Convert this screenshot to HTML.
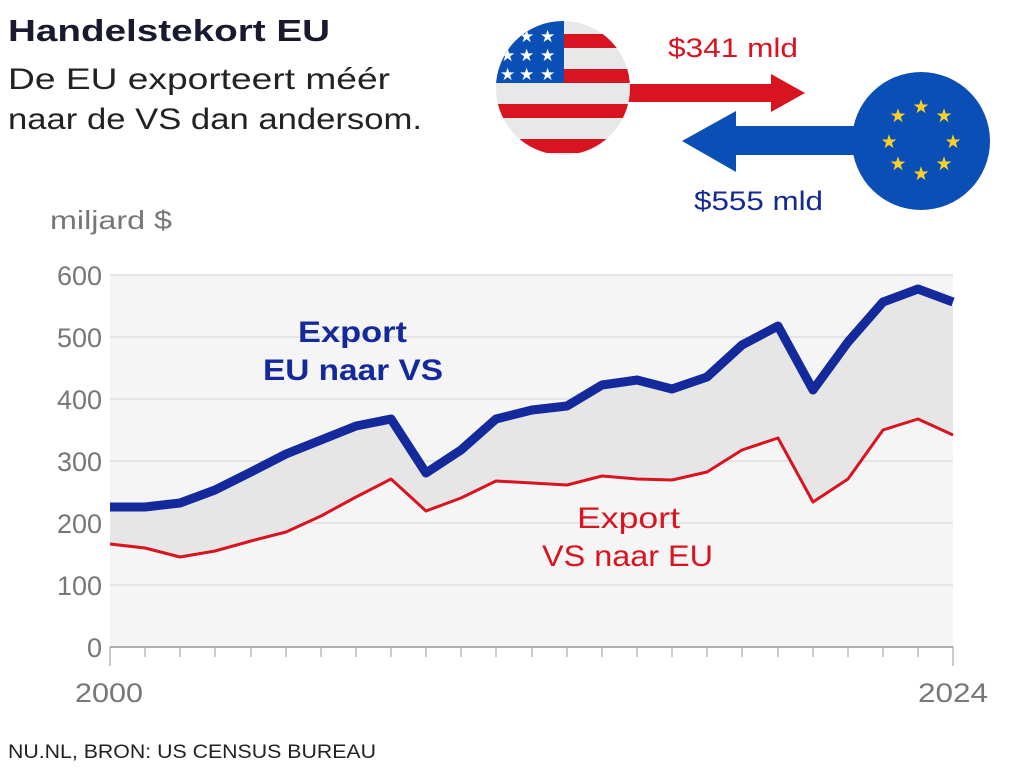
<!DOCTYPE html>
<html><head><meta charset="utf-8"><style>
body{margin:0;background:#fff;}
svg{display:block;font-family:"Liberation Sans","DejaVu Sans",sans-serif;}
</style></head><body>
<svg width="1024" height="768" viewBox="0 0 1024 768">
<defs><clipPath id="us"><circle cx="563" cy="88" r="67"/></clipPath></defs>
<text x="8" y="41" font-size="31" font-weight="bold" fill="#1a1a2e" textLength="322" lengthAdjust="spacingAndGlyphs">Handelstekort EU</text>
<text x="8" y="89" font-size="30" fill="#222" textLength="382" lengthAdjust="spacingAndGlyphs">De EU exporteert méér</text>
<text x="8" y="129" font-size="30" fill="#222" textLength="414" lengthAdjust="spacingAndGlyphs">naar de VS dan andersom.</text>
<!-- arrows -->
<rect x="620" y="84" width="153" height="18" fill="#d7141f"/>
<polygon points="771,74 805,93 771,112" fill="#d7141f"/>
<rect x="733" y="126" width="130" height="29" fill="#0a4fb5"/>
<polygon points="736,111 682,141 736,172" fill="#0a4fb5"/>
<g clip-path="url(#us)">
<rect x="490" y="15" width="150" height="150" fill="#e8e8e8"/>
<rect x="490" y="34" width="150" height="14" fill="#d7141f"/>
<rect x="490" y="69" width="150" height="14" fill="#d7141f"/>
<rect x="490" y="104" width="150" height="14" fill="#d7141f"/>
<rect x="490" y="139" width="150" height="14" fill="#d7141f"/>
<rect x="490" y="15" width="74" height="68" fill="#0a4fb5"/>
<g fill="#fff" font-size="17">
<text x="519" y="42">★</text><text x="540" y="42">★</text>
<text x="500" y="61">★</text><text x="519" y="61">★</text><text x="540" y="61">★</text>
<text x="500" y="80">★</text><text x="519" y="80">★</text><text x="540" y="80">★</text>
</g></g>
<circle cx="921" cy="141" r="69" fill="#0a4fb5"/>
<g fill="#f8d02a" font-size="19" text-anchor="middle">
<text x="921" y="113">★</text><text x="944" y="122">★</text><text x="953" y="148">★</text><text x="944" y="170">★</text>
<text x="921" y="180">★</text><text x="898" y="170">★</text><text x="889" y="148">★</text><text x="898" y="122">★</text>
</g>
<text x="668" y="57" font-size="27" fill="#d7141f" textLength="130" lengthAdjust="spacingAndGlyphs">$341 mld</text>
<text x="694" y="210" font-size="27" fill="#142a8c" textLength="129" lengthAdjust="spacingAndGlyphs">$555 mld</text>
<!-- chart -->
<text x="50" y="229" font-size="26" fill="#777" textLength="122" lengthAdjust="spacingAndGlyphs">miljard $</text>
<rect x="110" y="275" width="843" height="372" fill="#f5f5f5"/>
<g stroke="#d4d4d4" stroke-width="1">
<line x1="110" y1="275" x2="953" y2="275"/><line x1="110" y1="337" x2="953" y2="337"/>
<line x1="110" y1="399" x2="953" y2="399"/><line x1="110" y1="461" x2="953" y2="461"/>
<line x1="110" y1="523" x2="953" y2="523"/><line x1="110" y1="585" x2="953" y2="585"/>
</g>
<g font-size="27" fill="#777" text-anchor="end">
<text x="102" y="285">600</text><text x="102" y="347">500</text><text x="102" y="409">400</text>
<text x="102" y="471">300</text><text x="102" y="533">200</text><text x="102" y="595">100</text><text x="102" y="657">0</text>
</g>
<polygon fill="#e6e6e6" points="110,507 145,507 180,503 215,490 251,472 286,454 321,440 356,426 391,419 426,473 461,450 496,419 532,410 567,406 602,385 637,380 672,389 707,377 742,345 778,326 813,390 848,342 883,302 918,289 953,302 953,435 918,419 883,430 848,479 813,502 778,438 742,450 707,472 672,480 637,479 602,476 567,485 532,483 496,481 461,498 426,511 391,479 356,497 321,516 286,532 251,541 215,551 180,557 145,548 110,544"/>
<line x1="110" y1="647" x2="953" y2="647" stroke="#999" stroke-width="1.5"/>
<g stroke="#999" stroke-width="1">
<line x1="110" y1="647" x2="110" y2="666"/><line x1="145" y1="647" x2="145" y2="657"/><line x1="180" y1="647" x2="180" y2="657"/><line x1="215" y1="647" x2="215" y2="657"/><line x1="251" y1="647" x2="251" y2="657"/><line x1="286" y1="647" x2="286" y2="657"/><line x1="321" y1="647" x2="321" y2="657"/><line x1="356" y1="647" x2="356" y2="657"/><line x1="391" y1="647" x2="391" y2="657"/><line x1="426" y1="647" x2="426" y2="657"/><line x1="461" y1="647" x2="461" y2="657"/><line x1="496" y1="647" x2="496" y2="657"/><line x1="532" y1="647" x2="532" y2="657"/><line x1="567" y1="647" x2="567" y2="657"/><line x1="602" y1="647" x2="602" y2="657"/><line x1="637" y1="647" x2="637" y2="657"/><line x1="672" y1="647" x2="672" y2="657"/><line x1="707" y1="647" x2="707" y2="657"/><line x1="742" y1="647" x2="742" y2="657"/><line x1="778" y1="647" x2="778" y2="657"/><line x1="813" y1="647" x2="813" y2="657"/><line x1="848" y1="647" x2="848" y2="657"/><line x1="883" y1="647" x2="883" y2="657"/><line x1="918" y1="647" x2="918" y2="657"/><line x1="953" y1="647" x2="953" y2="666"/>
</g>
<polyline fill="none" stroke="#d7141f" stroke-width="3" stroke-linejoin="round" points="110,544 145,548 180,557 215,551 251,541 286,532 321,516 356,497 391,479 426,511 461,498 496,481 532,483 567,485 602,476 637,479 672,480 707,472 742,450 778,438 813,502 848,479 883,430 918,419 953,435"/>
<polyline fill="none" stroke="#142a9c" stroke-width="9" stroke-linejoin="round" points="110,507 145,507 180,503 215,490 251,472 286,454 321,440 356,426 391,419 426,473 461,450 496,419 532,410 567,406 602,385 637,380 672,389 707,377 742,345 778,326 813,390 848,342 883,302 918,289 953,302"/>
<g font-size="30">
<text x="298" y="342" font-weight="bold" fill="#142a9c" textLength="109" lengthAdjust="spacingAndGlyphs">Export</text>
<text x="263" y="380" font-weight="bold" fill="#142a9c" textLength="180" lengthAdjust="spacingAndGlyphs">EU naar VS</text>
<text x="577" y="528" fill="#d7141f" textLength="103" lengthAdjust="spacingAndGlyphs">Export</text>
<text x="542" y="566" fill="#d7141f" textLength="171" lengthAdjust="spacingAndGlyphs">VS naar EU</text>
</g>
<text x="75" y="702" font-size="27" fill="#777" textLength="68" lengthAdjust="spacingAndGlyphs">2000</text>
<text x="918" y="702" font-size="27" fill="#777" textLength="70" lengthAdjust="spacingAndGlyphs">2024</text>
<text x="8" y="758" font-size="19" fill="#222" textLength="368" lengthAdjust="spacingAndGlyphs">NU.NL, BRON: US CENSUS BUREAU</text>
</svg>
</body></html>
